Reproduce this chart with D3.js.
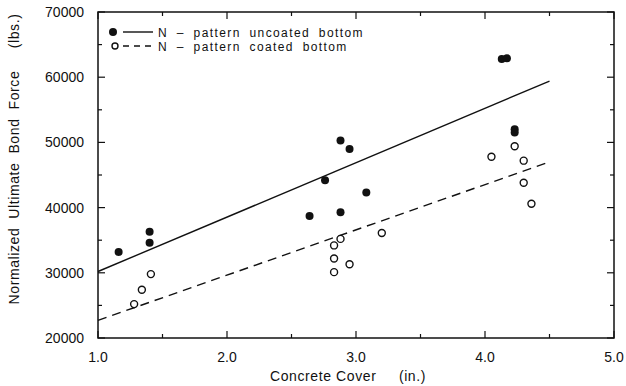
<!DOCTYPE html>
<html>
<head>
<meta charset="utf-8">
<script src="https://cdn.jsdelivr.net/npm/d3@7"></script>
<style>
  html, body { margin: 0; padding: 0; background: #fff; }
  svg text { font-family: "Liberation Sans", Arial, sans-serif; fill: #111; }
</style>
</head>
<body>
<svg id="chart" width="626" height="386"></svg>
<script>
// concrete cover (in.) vs normalized ultimate bond force (lbs.)
const uncoatedX = [1.16, 1.40, 1.40, 2.64, 2.76, 2.88, 2.88, 2.95, 3.08, 4.13, 4.17, 4.23, 4.23];
const uncoatedY = [33200, 36300, 34600, 38700, 44200, 50300, 39300, 49000, 42300, 62800, 62900, 52000, 51500];
const coatedX = [1.28, 1.34, 1.41, 2.83, 2.83, 2.83, 2.88, 2.95, 3.20, 4.05, 4.23, 4.30, 4.30, 4.36];
const coatedY = [25200, 27400, 29800, 30100, 32200, 34200, 35200, 31300, 36100, 47800, 49400, 47200, 43800, 40600];
const fitX = [1.0, 4.5];
const uncoatedFit = [30200, 59400];
const coatedFit = [22700, 47000];
const xTicks = [1.0, 2.0, 3.0, 4.0, 5.0];
const yTicks = [20000, 30000, 40000, 50000, 60000, 70000];
const legendLabels = ['N \u2013 pattern uncoated bottom', 'N \u2013 pattern coated bottom'];

const svg = d3.select('#chart');
const margin = { top: 12, right: 12, bottom: 48, left: 98 };
const width = 626 - margin.left - margin.right;
const height = 386 - margin.top - margin.bottom;
const g = svg.append('g').attr('transform', `translate(${margin.left},${margin.top})`);

const x = d3.scaleLinear().domain([1, 5]).range([0, width]);
const y = d3.scaleLinear().domain([20000, 70000]).range([height, 0]);

// ticks on all four sides, pointing inward
const minorX = d3.range(1, 5.01, 0.5);
const minorY = d3.range(20000, 70001, 5000);
const isMajorX = v => Math.abs(v - Math.round(v)) < 1e-6;
const isMajorY = v => v % 10000 === 0;

g.selectAll('.tb').data(minorX).enter().append('line')
  .attr('x1', d => x(d)).attr('x2', d => x(d))
  .attr('y1', height).attr('y2', d => height - (isMajorX(d) ? 7 : 4))
  .attr('stroke', '#111').attr('stroke-width', 1.2);
g.selectAll('.tt').data(minorX).enter().append('line')
  .attr('x1', d => x(d)).attr('x2', d => x(d))
  .attr('y1', 0).attr('y2', d => isMajorX(d) ? 7 : 4)
  .attr('stroke', '#111').attr('stroke-width', 1.2);
g.selectAll('.tl').data(minorY).enter().append('line')
  .attr('x1', 0).attr('x2', d => isMajorY(d) ? 7 : 4)
  .attr('y1', d => y(d)).attr('y2', d => y(d))
  .attr('stroke', '#111').attr('stroke-width', 1.2);
g.selectAll('.tr').data(minorY).enter().append('line')
  .attr('x1', width).attr('x2', d => width - (isMajorY(d) ? 7 : 4))
  .attr('y1', d => y(d)).attr('y2', d => y(d))
  .attr('stroke', '#111').attr('stroke-width', 1.2);

g.append('rect').attr('width', width).attr('height', height)
  .attr('fill', 'none').attr('stroke', '#111').attr('stroke-width', 1.5);

// tick labels
g.selectAll('.xl').data(xTicks).enter().append('text')
  .attr('x', d => x(d)).attr('y', height + 24)
  .attr('text-anchor', 'middle').attr('font-size', 14)
  .text(d => d.toFixed(1));
g.selectAll('.yl').data(yTicks).enter().append('text')
  .attr('x', -14).attr('y', d => y(d) + 5)
  .attr('text-anchor', 'end').attr('font-size', 14)
  .text(d => d);

// axis titles
svg.append('text')
  .attr('x', margin.left + width / 2 - 8).attr('y', 381)
  .attr('text-anchor', 'middle').attr('font-size', 14)
  .attr('letter-spacing', 0.6).attr('xml:space', 'preserve')
  .text('Concrete Cover     (in.)');
svg.append('text')
  .attr('transform', `translate(19,${margin.top + 147}) rotate(-90)`)
  .attr('text-anchor', 'middle').attr('font-size', 14)
  .attr('letter-spacing', 0.6).attr('xml:space', 'preserve')
  .text('Normalized  Ultimate  Bond  Force     (lbs.)');

// fitted lines
const line = d3.line().x(d => x(d[0])).y(d => y(d[1]));
g.append('path').datum(d3.zip(fitX, uncoatedFit)).attr('d', line)
  .attr('fill', 'none').attr('stroke', '#111').attr('stroke-width', 1.4);
g.append('path').datum(d3.zip(fitX, coatedFit)).attr('d', line)
  .attr('fill', 'none').attr('stroke', '#111').attr('stroke-width', 1.4)
  .attr('stroke-dasharray', '9,6');

// points
g.selectAll('.pu').data(d3.zip(uncoatedX, uncoatedY)).enter().append('circle')
  .attr('cx', d => x(d[0])).attr('cy', d => y(d[1])).attr('r', 4)
  .attr('fill', '#111');
g.selectAll('.pc').data(d3.zip(coatedX, coatedY)).enter().append('circle')
  .attr('cx', d => x(d[0])).attr('cy', d => y(d[1])).attr('r', 3.5)
  .attr('fill', '#fff').attr('stroke', '#111').attr('stroke-width', 1.4);

// legend
const lg = g.append('g').attr('transform', 'translate(15,20)');
lg.append('circle').attr('cx', 0).attr('cy', 0).attr('r', 4).attr('fill', '#111');
lg.append('line').attr('x1', 10).attr('x2', 40).attr('y1', 0).attr('y2', 0)
  .attr('stroke', '#111').attr('stroke-width', 1.4);
lg.append('circle').attr('cx', 2).attr('cy', 14).attr('r', 3).attr('fill', '#fff')
  .attr('stroke', '#111').attr('stroke-width', 1.4);
lg.append('line').attr('x1', 10).attr('x2', 40).attr('y1', 14).attr('y2', 14)
  .attr('stroke', '#111').attr('stroke-width', 1.4).attr('stroke-dasharray', '6,5');
lg.selectAll('.lt').data(legendLabels).enter().append('text')
  .attr('x', 45).attr('y', (d, i) => i * 14 + 4.5)
  .attr('font-size', 12).attr('letter-spacing', 1.4).attr('word-spacing', 4)
  .text(d => d);
</script>
</body>
</html>
